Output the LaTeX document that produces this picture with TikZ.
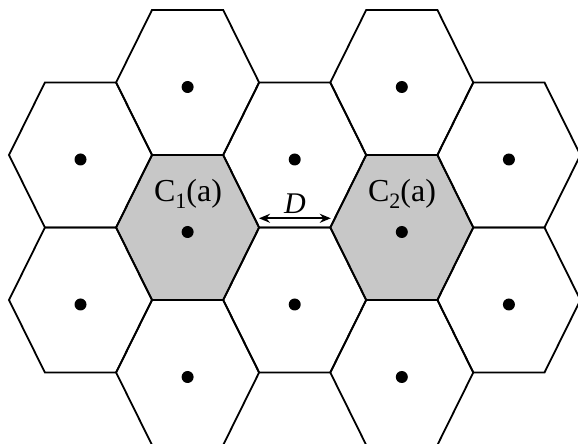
\documentclass[tikz,border=0pt]{standalone}
\usepackage{fontspec}
\setmainfont{Liberation Serif}
\usetikzlibrary{arrows.meta}
\tikzset{
  hexcell/.style={draw=black, line width=1.8pt, line join=miter},
  shadedcell/.style={fill=black!22},
  celldot/.style={circle, fill=black, inner sep=0pt, minimum size=12pt},
  distarrow/.style={{Stealth[length=11pt,width=9pt]}-{Stealth[length=11pt,width=9pt]}, line width=1.8pt},
  lbl/.style={font=\fontsize{32}{32}\selectfont, inner sep=0pt, anchor=base},
}
\newcommand{\hexpath}[2]{(#1+71.5,#2) -- (#1+35.6,#2+72.5) -- (#1-35.6,#2+72.5) -- (#1-71.5,#2) -- (#1-35.6,#2-72.5) -- (#1+35.6,#2-72.5) -- cycle}
\begin{document}
\begin{tikzpicture}[x=1pt,y=1pt]
\useasboundingbox (0,0) rectangle (578,444);
\begin{scope}
  \clip (0,0) rectangle (578,444);
  \foreach \cx/\cy in {187.6/216.5, 401.8/216.5}
    \fill[shadedcell] \hexpath{\cx}{\cy};
  \foreach \cx/\cy [count=\i] in {80.5/289, 80.5/144,
      187.6/361.5, 187.6/216.5, 187.6/71.5,
      294.7/289, 294.7/144,
      401.8/361.5, 401.8/216.5, 401.8/71.5,
      508.9/289, 508.9/144} {
    \draw[hexcell] \hexpath{\cx}{\cy};
    \node[celldot] (dot\i) at (\cx,\cy-4.5) {};
  }
\end{scope}
\node[lbl] (c1) at (188,242.3) {C\raisebox{-7pt}{\fontsize{22}{22}\selectfont 1}(a)};
\node[lbl] (c2) at (402,242.3) {C\raisebox{-7pt}{\fontsize{22}{22}\selectfont 2}(a)};
\coordinate (al) at (259,225.7);
\coordinate (ar) at (330.8,225.7);
\draw[distarrow] (al) -- (ar);
\node[lbl, font=\fontsize{30}{30}\selectfont\itshape] (dlab) at (295,230) {D};
\end{tikzpicture}
\end{document}
